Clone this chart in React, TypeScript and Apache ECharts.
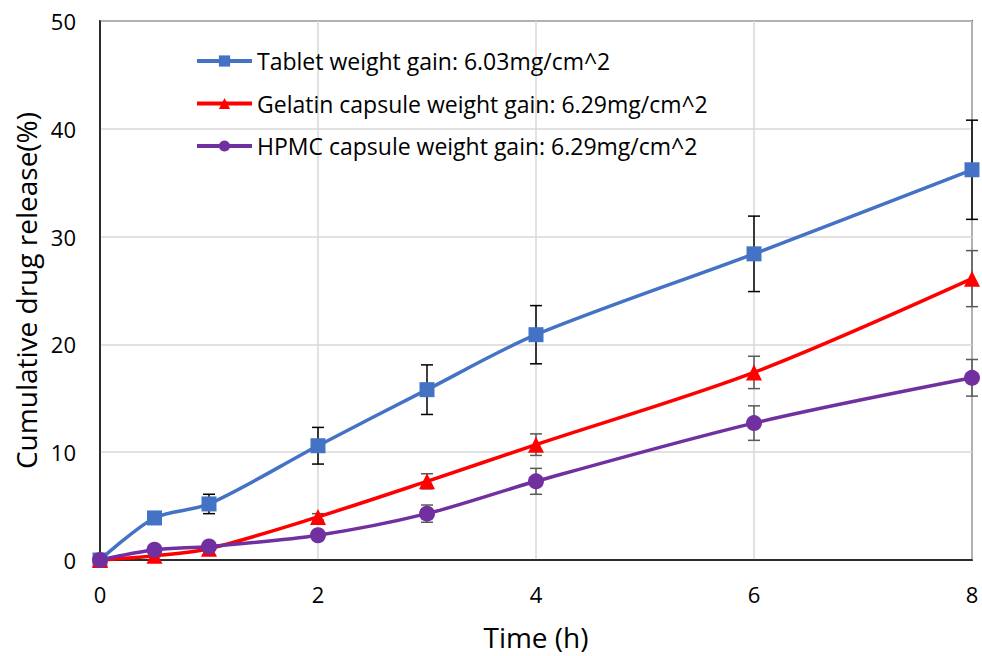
import React, { useEffect, useRef } from "react";
import * as echarts from "echarts";

const times = [0, 0.5, 1, 2, 3, 4, 6, 8];
const tabletValues = [0, 3.9, 5.2, 10.6, 15.8, 20.9, 28.4, 36.2];
const tabletErrors = [0, 0.4, 0.9, 1.7, 2.3, 2.7, 3.5, 4.6];
const gelatinValues = [0, 0.4, 1.05, 4.0, 7.3, 10.7, 17.4, 26.1];
const gelatinErrors = [0, 0.1, 0.2, 0.3, 0.7, 1.0, 1.5, 2.6];
const hpmcValues = [0, 0.95, 1.25, 2.3, 4.3, 7.3, 12.7, 16.9];
const hpmcErrors = [0, 0.2, 0.2, 0.3, 0.8, 1.2, 1.6, 1.7];
const seriesNames = [
  "Tablet weight gain: 6.03mg/cm^2",
  "Gelatin capsule weight gain: 6.29mg/cm^2",
  "HPMC capsule weight gain: 6.29mg/cm^2",
];

const FONT = "Open Sans";

function errorSeries(values: number[], errors: number[], color: string) {
  return {
    type: "custom",
    silent: true,
    z: 1,
    data: times.map((t, i) => [t, values[i] - errors[i], values[i] + errors[i]]),
    renderItem: (params: any, api: any) => {
      const x = api.value(0);
      const lo = api.coord([x, api.value(1)]);
      const hi = api.coord([x, api.value(2)]);
      const half = 6;
      const style = { stroke: color, lineWidth: 1.5 };
      return {
        type: "group",
        children: [
          { type: "line", shape: { x1: lo[0], y1: lo[1], x2: hi[0], y2: hi[1] }, style },
          { type: "line", shape: { x1: lo[0] - half, y1: lo[1], x2: lo[0] + half, y2: lo[1] }, style },
          { type: "line", shape: { x1: hi[0] - half, y1: hi[1], x2: hi[0] + half, y2: hi[1] }, style },
        ],
      };
    },
  };
}

export default function App() {
  const ref = useRef<HTMLDivElement>(null);
  useEffect(() => {
    if (!ref.current) return;
    const chart = echarts.init(ref.current, null, { renderer: "svg" });
    const lineSeries = (name: string, values: number[], color: string, symbol: string, size: number) => ({
      name,
      type: "line",
      z: 3,
      smooth: 0.3,
      data: times.map((t, i) => [t, values[i]]),
      symbol,
      symbolSize: size,
      lineStyle: { color, width: 3.5 },
      itemStyle: { color, borderWidth: 0 },
    });
    chart.setOption({
      animation: false,
      backgroundColor: "#ffffff",
      grid: {
        left: 100,
        right: 10,
        top: 21,
        bottom: 92,
        show: true,
        borderColor: "#000000",
        borderWidth: 1.5,
      },
      legend: {
        orient: "vertical",
        left: 195,
        top: 49,
        padding: 0,
        itemWidth: 55,
        itemHeight: 14,
        itemGap: 18.5,
        data: seriesNames,
        lineStyle: { width: 4 },
        textStyle: { fontFamily: FONT, fontSize: 23, color: "#000000", lineHeight: 24 },
      },
      xAxis: {
        type: "value",
        min: 0,
        max: 8,
        interval: 2,
        name: "Time (h)",
        nameLocation: "middle",
        nameGap: 63,
        nameTextStyle: { fontFamily: FONT, fontSize: 28, color: "#000000" },
        axisLine: { show: true, lineStyle: { color: "#000000", width: 1.5 } },
        axisTick: { show: false },
        axisLabel: { fontFamily: FONT, fontSize: 22, color: "#000000", margin: 23 },
        splitLine: { show: true, lineStyle: { color: "#d9d9d9", width: 1.5 } },
      },
      yAxis: {
        type: "value",
        min: 0,
        max: 50,
        interval: 10,
        name: "Cumulative drug release(%)",
        nameLocation: "middle",
        nameGap: 58,
        nameTextStyle: { fontFamily: FONT, fontSize: 28, color: "#000000" },
        axisLine: { show: true, lineStyle: { color: "#000000", width: 1.5 } },
        axisTick: { show: false },
        axisLabel: { fontFamily: FONT, fontSize: 22, color: "#000000", margin: 24 },
        splitLine: { show: true, lineStyle: { color: "#d9d9d9", width: 1.5 } },
      },
      series: [
        errorSeries(tabletValues, tabletErrors, "#000000"),
        errorSeries(gelatinValues, gelatinErrors, "#595959"),
        errorSeries(hpmcValues, hpmcErrors, "#595959"),
        lineSeries(seriesNames[0], tabletValues, "#4472C4", "rect", 15),
        lineSeries(seriesNames[1], gelatinValues, "#FF0000", "triangle", 16),
        lineSeries(seriesNames[2], hpmcValues, "#7030A0", "circle", 16),
      ],
    });
    return () => chart.dispose();
  }, []);
  return <div ref={ref} style={{ width: 982, height: 656, position: "absolute", left: 0, top: 0 }} />;
}
